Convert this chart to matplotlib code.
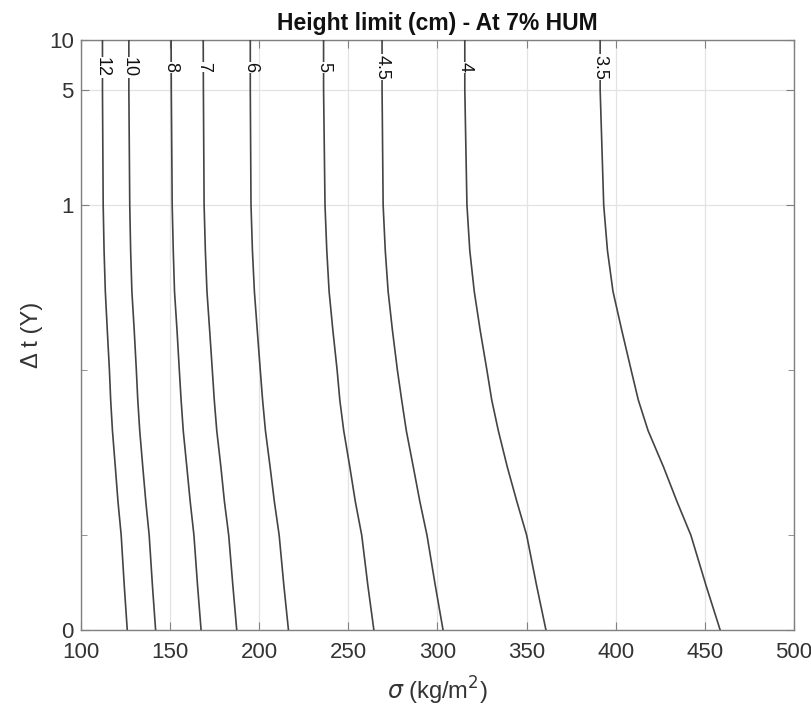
import numpy as np
import matplotlib
matplotlib.use("Agg")
import matplotlib.pyplot as plt

plt.rcParams['font.family'] = ['Liberation Sans', 'DejaVu Sans']

# time levels (years) at which the contour positions were read; last one is the "0" bottom
t_levels = [10, 5, 1, 0.53, 0.3, 0.175, 0.1, 0.066, 0.043, 0.026, 0.016, 0.01, 0.005, 0.00267]

# sigma (kg/m2) of each height-limit contour at those time levels
h_labels = ['12', '10', '8', '7', '6', '5', '4.5', '4', '3.5']
sig_12 = [112.2, 112.2, 112.6, 113.1, 113.8, 114.9, 116.1, 116.8, 117.8, 119.4, 120.9, 122.7, 124.4, 126.1]
sig_10 = [127.0, 127.0, 127.5, 128.0, 128.7, 130.0, 131.2, 132.0, 133.1, 134.8, 136.5, 138.4, 140.2, 142.0]
sig_8 = [150.7, 150.8, 151.3, 151.9, 152.6, 154.0, 155.3, 156.3, 157.5, 159.5, 161.4, 163.5, 165.5, 167.5]
sig_7 = [168.7, 168.8, 169.2, 169.9, 170.8, 172.3, 173.8, 174.9, 176.3, 178.6, 180.6, 183.0, 185.3, 187.5]
sig_6 = [195.1, 195.1, 195.5, 196.3, 197.4, 199.0, 200.7, 202.0, 203.6, 206.2, 208.6, 211.3, 213.9, 216.5]
sig_5 = [236.2, 236.2, 237.0, 238.0, 239.3, 241.4, 243.8, 245.3, 247.5, 250.9, 254.0, 257.6, 261.0, 264.4]
sig_45 = [269.0, 269.0, 269.6, 270.8, 272.4, 274.8, 277.6, 280.0, 282.6, 286.5, 290.2, 294.2, 298.8, 303.2]
sig_4 = [315.4, 315.4, 316.6, 318.2, 320.7, 324.0, 327.8, 330.5, 334.2, 339.2, 344.6, 350.1, 355.6, 360.9]
sig_35 = [391.3, 391.3, 393.3, 395.4, 398.5, 403.4, 408.7, 412.7, 418.2, 426.8, 434.4, 442.2, 450.6, 458.6]
curves = [sig_12, sig_10, sig_8, sig_7, sig_6, sig_5, sig_45, sig_4, sig_35]

label_t = 6.85

x_ticks = [100, 150, 200, 250, 300, 350, 400, 450, 500]
y_ticks = [0.00267, 1, 5, 10]
y_ticklabels = ['0', '1', '5', '10']
y_minor = [0.01, 0.1]

fig = plt.figure(figsize=(8.12, 7.12), dpi=100)
ax = fig.add_axes([0.0994, 0.1152, 0.8784, 0.8286])

for lab, sig in zip(h_labels, curves):
    ax.plot(sig, t_levels, color='#444444', lw=1.2, zorder=3)
    xl = np.interp(np.log10(label_t), np.log10(t_levels[::-1]), sig[::-1])
    ax.text(xl, label_t, lab, rotation=-90, ha='center', va='center',
            fontsize=13, color='#111111', zorder=4,
            bbox=dict(facecolor='white', edgecolor='none', pad=0.3))

ax.set_yscale('log')
ax.set_xlim(100, 500)
ax.set_ylim(0.00267, 10)
ax.set_xticks(x_ticks)
ax.set_yticks(y_ticks)
ax.set_yticklabels(y_ticklabels)
ax.set_yticks(y_minor, minor=True)
ax.yaxis.set_minor_formatter(matplotlib.ticker.NullFormatter())

ax.grid(True, which='major', color='#e3e3e3', lw=0.9)
ax.set_axisbelow(True)
ax.tick_params(which='both', direction='in', top=True, right=True,
               colors='#808080', labelcolor='#333333', labelsize=16)
ax.tick_params(which='major', length=6)
ax.tick_params(which='minor', length=4)
ax.tick_params(axis='x', pad=9)
ax.tick_params(axis='y', pad=5)
for s in ax.spines.values():
    s.set_color('#808080')
    s.set_linewidth(1.0)

ax.set_title('Height limit (cm) - At 7% HUM', fontsize=16.5, fontweight='bold',
             color='#111111', pad=7)
ax.set_xlabel(r'$\sigma$ (kg/m$^{2}$)', fontsize=17, color='#333333', labelpad=8)
ax.set_ylabel('\u0394 t (Y)', fontsize=17, color='#333333', labelpad=4)

fig.savefig('out.png', dpi=100)
